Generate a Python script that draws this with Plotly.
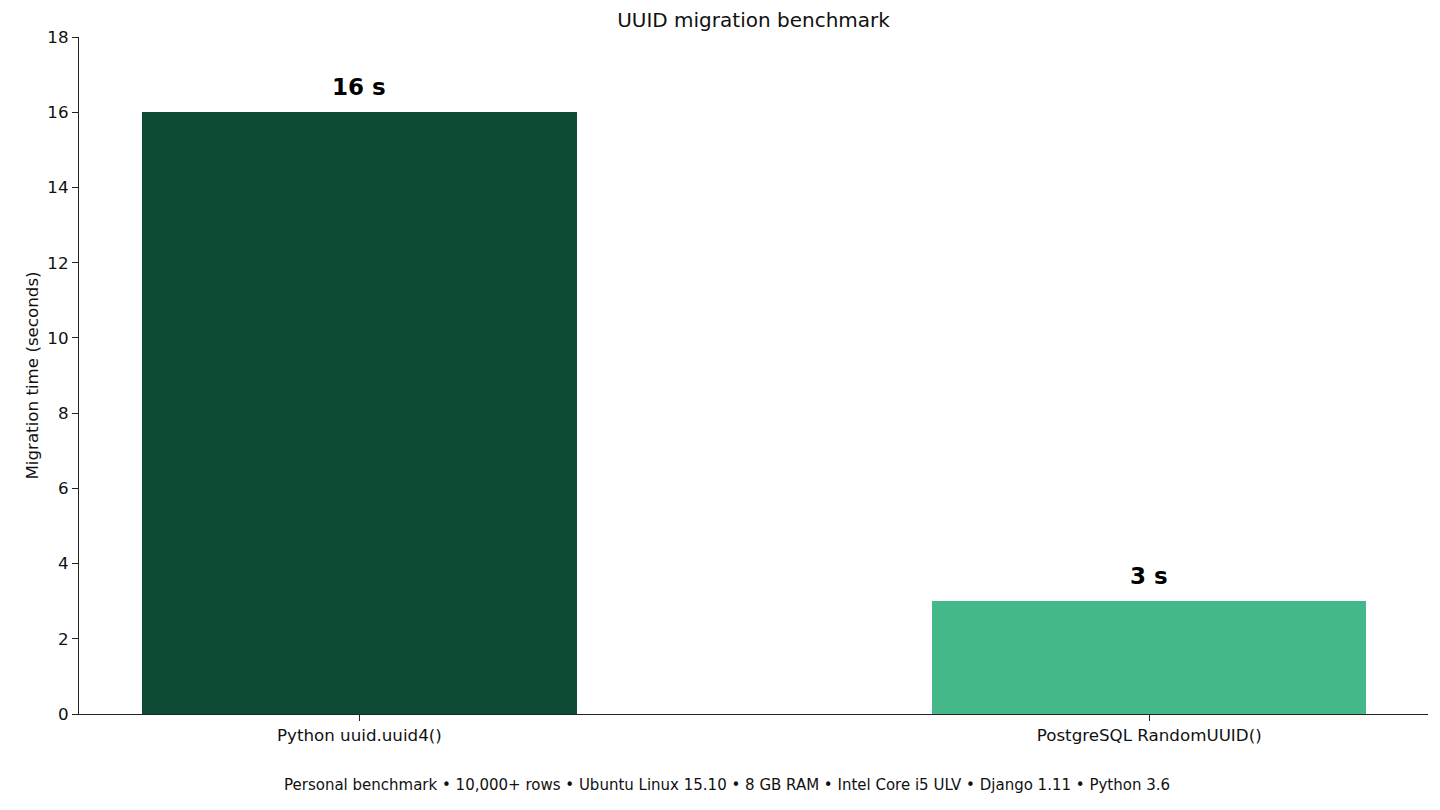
import plotly.graph_objects as go

categories = ["Python uuid.uuid4()", "PostgreSQL RandomUUID()"]
times = [16, 3]
labels = ["16 s", "3 s"]
colors = ["#0d4b34", "#45b88a"]
y_ticks = [0, 2, 4, 6, 8, 10, 12, 14, 16, 18]
footer = "Personal benchmark • 10,000+ rows • Ubuntu Linux 15.10 • 8 GB RAM • Intel Core i5 ULV • Django 1.11 • Python 3.6"

FONT = "DejaVu Sans"

fig = go.Figure()
fig.add_trace(go.Bar(
    x=categories, y=times, width=0.55,
    marker=dict(color=colors, line=dict(width=0)),
    hoverinfo="skip", showlegend=False,
))

for c, v, lab in zip(categories, times, labels):
    fig.add_annotation(x=c, y=v, text="<b>" + lab + "</b>", showarrow=False,
                       yanchor="bottom", yshift=10,
                       font=dict(family=FONT, size=23, color="black"))

fig.add_annotation(text=footer, xref="paper", yref="paper", x=0.48, y=0,
                   yshift=-71, yanchor="middle", xanchor="center", showarrow=False,
                   font=dict(family=FONT, size=15, color="#111111"))

fig.update_layout(
    width=1440, height=810,
    paper_bgcolor="white", plot_bgcolor="white",
    margin=dict(l=71, r=20, t=29, b=104),
    title=dict(text="UUID migration benchmark", xref="paper", x=0.5, xanchor="center",
               y=0.985, yanchor="middle",
               font=dict(family=FONT, size=20, color="#111111")),
    font=dict(family=FONT, size=16.7, color="#111111"),
    bargap=0,
)
fig.update_xaxes(range=[-0.355, 1.353], showline=True, linecolor="#222222", linewidth=1.2,
                 ticks="outside", ticklen=6, tickcolor="#222222", showgrid=False,
                 tickfont=dict(family=FONT, size=16.7, color="#111111"), zeroline=False)
fig.update_yaxes(range=[0, 18], tickvals=y_ticks, showline=True, linecolor="#222222",
                 linewidth=1.2, ticks="outside", ticklen=6, tickcolor="#222222",
                 showgrid=False, zeroline=False,
                 tickfont=dict(family=FONT, size=16.7, color="#111111"),
                 title=dict(text="Migration time (seconds)", standoff=4,
                            font=dict(family=FONT, size=16.7, color="#111111")))

fig.write_html("out.html")
